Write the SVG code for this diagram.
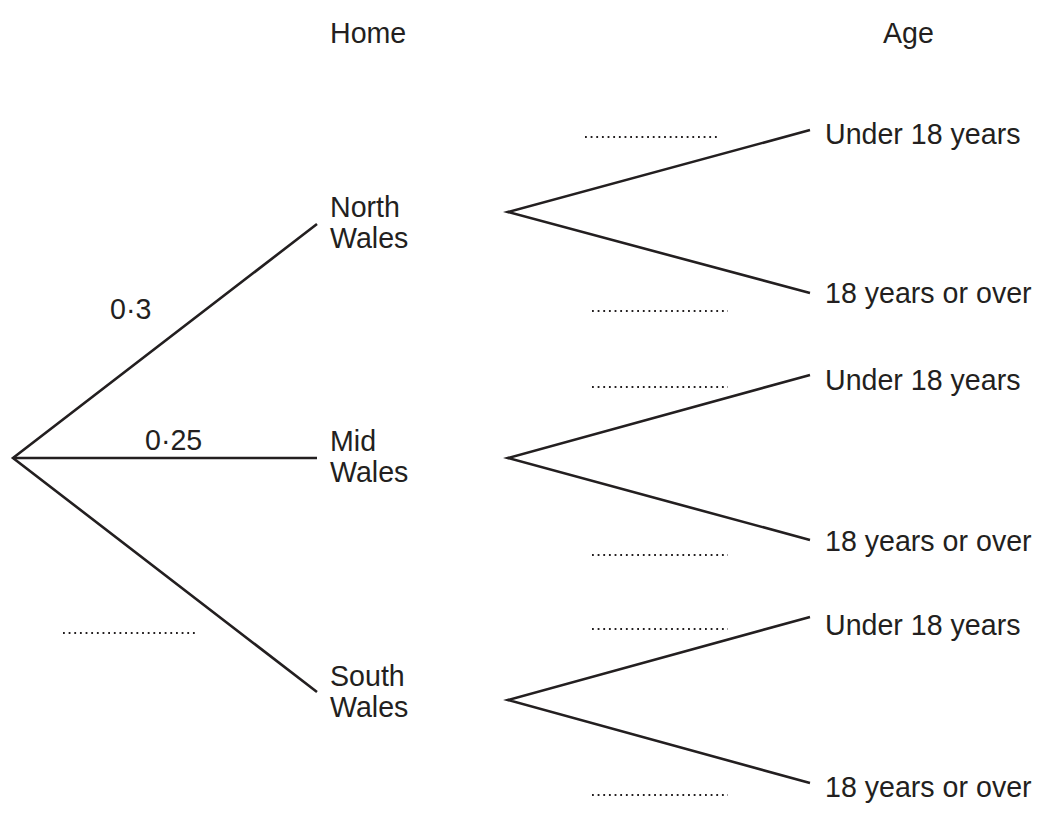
<svg xmlns="http://www.w3.org/2000/svg" width="1048" height="821" viewBox="0 0 1048 821">
<style>
text{font-family:"Liberation Sans",Arial,sans-serif;font-size:28.6px;fill:#231f20}
.br{stroke:#231f20;stroke-width:2.6;fill:none;stroke-linecap:butt;stroke-linejoin:miter}
.dot{stroke:#231f20;stroke-width:1.8;stroke-dasharray:1.8 3.85;fill:none}
</style>
<rect width="1048" height="821" fill="#fff"/>
<g id="headers">
<text x="330" y="43">Home</text>
<text x="883" y="43">Age</text>
</g>
<g id="connectors">
<polyline class="br" points="317,224 13,458 317,692"/>
<line class="br" x1="13" y1="458" x2="317" y2="458"/>
<polyline class="br" points="810,130 508,212 810,293"/>
<polyline class="br" points="810,375 508,458 810,540"/>
<polyline class="br" points="810,617 508,700 810,783"/>
</g>
<g id="labels">
<text x="110" y="319">0·3</text>
<text x="145" y="450">0·25</text>
<line class="dot" x1="63" y1="633" x2="198" y2="633"/>
<line class="dot" x1="585" y1="137" x2="720" y2="137"/>
<line class="dot" x1="592" y1="311" x2="728" y2="311"/>
<line class="dot" x1="592" y1="387" x2="728" y2="387"/>
<line class="dot" x1="592" y1="555" x2="728" y2="555"/>
<line class="dot" x1="592" y1="629" x2="728" y2="629"/>
<line class="dot" x1="592" y1="795" x2="728" y2="795"/>
</g>
<g id="node-north"><text x="330" y="217">North</text><text x="330" y="248">Wales</text></g>
<g id="node-mid"><text x="330" y="451">Mid</text><text x="330" y="482">Wales</text></g>
<g id="node-south"><text x="330" y="686">South</text><text x="330" y="717">Wales</text></g>
<g id="node-n-under"><text x="825" y="144">Under 18 years</text></g>
<g id="node-n-over"><text x="825" y="303">18 years or over</text></g>
<g id="node-m-under"><text x="825" y="390">Under 18 years</text></g>
<g id="node-m-over"><text x="825" y="551">18 years or over</text></g>
<g id="node-s-under"><text x="825" y="635">Under 18 years</text></g>
<g id="node-s-over"><text x="825" y="797">18 years or over</text></g>
</svg>
